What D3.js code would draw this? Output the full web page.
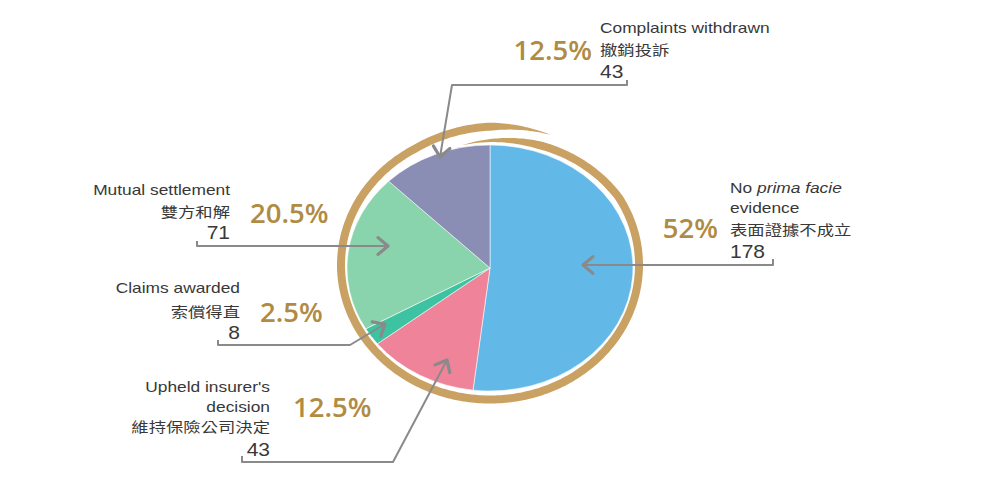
<!DOCTYPE html>
<html>
<head>
<meta charset="utf-8">
<script src="https://cdn.jsdelivr.net/npm/d3@7"></script>
<style>
  body { margin: 0; background: #fff; }
  svg { display: block; }
  .en { font-family: "Liberation Sans", Arial, sans-serif; font-size: 14px; fill: #383838; }
  .num { font-family: "Liberation Sans", Arial, sans-serif; font-size: 17.5px; fill: #383838; }
  .zh { font-family: "Noto Sans CJK TC", sans-serif; font-size: 14px; fill: #383838; }
  .pct { font-family: "Open Sans", sans-serif; font-weight: 600; font-size: 27.5px; fill: #b08b43; }
</style>
</head>
<body>
<div id="chart"></div>
<script>
// Data
const categories = ["No prima facie evidence", "Upheld insurer's decision", "Claims awarded", "Mutual settlement", "Complaints withdrawn"];
const labelsZh = ["表面證據不成立", "維持保險公司決定", "索償得直", "雙方和解", "撤銷投訴"];
const counts = [178, 43, 8, 71, 43];
const percents = ["52%", "12.5%", "2.5%", "20.5%", "12.5%"];
const colors = ["#62b8e7", "#ef8399", "#3dc2a2", "#89d3ad", "#8a8db4"];

const width = 982, height = 485;
const cx = 490, cy = 268, rx = 143, ry = 123;

const svg = d3.select("#chart")
    .append("svg")
    .attr("width", width)
    .attr("height", height);

// gold brush ring (spiral, overlapping at top)
const ringCy = 265, ringRx = 149, ringRy = 134.5;
function ringScale(a) {
    if (a < 60) return 0.91 + 0.09 * (a + 12) / 72;
    if (a < 330) return 1;
    return 1 + 0.05 * (a - 330) / 53;
}
function ringWidth(a) {
    if (a < 20) return 8 * (a + 12) / 32;
    if (a < 360) return 8;
    return 8 * (383 - a) / 23;
}
const outer = [], inner = [];
for (let a = -12; a <= 383; a += 1) {
    const rad = a * Math.PI / 180, s = ringScale(a), w = ringWidth(a) / 2;
    outer.push([cx + (s * ringRx + w) * Math.sin(rad), ringCy - (s * ringRy + w) * Math.cos(rad)]);
    inner.push([cx + (s * ringRx - w) * Math.sin(rad), ringCy - (s * ringRy - w) * Math.cos(rad)]);
}
svg.append("path")
    .attr("d", d3.line()(outer.concat(inner.reverse())) + "Z")
    .attr("fill", "#c9a162");

// pie (elliptical)
const pie = d3.pie().sort(null).value(d => d)(counts);
const arc = d3.arc().innerRadius(0).outerRadius(rx);

svg.append("g")
    .attr("transform", `translate(${cx},${cy}) scale(1,${ry / rx})`)
    .selectAll("path")
    .data(pie)
    .enter()
    .append("path")
    .attr("d", arc)
    .attr("fill", (d, i) => colors[i])
    .attr("stroke", "#fff")
    .attr("stroke-width", 0.6);

// label layout
const layout = [
    { x: 730, anchor: "start", ys: [193, 213, 235, 258], px: 718, py: 238, pAnchor: "end",
      lead: [[773, 259], [773, 265], [583, 265]] },
    { x: 270, anchor: "end", ys: [392, 412, 432, 456], px: 293, py: 417, pAnchor: "start",
      lead: [[242, 456], [242, 462], [393, 462], [447, 360]] },
    { x: 240, anchor: "end", ys: [293, 317, 339], px: 260, py: 322, pAnchor: "start",
      lead: [[218, 340], [218, 345], [350, 345], [385, 324]] },
    { x: 230, anchor: "end", ys: [195, 217, 239], px: 250, py: 223, pAnchor: "start",
      lead: [[197, 241], [197, 246], [388, 246]] },
    { x: 600, anchor: "start", ys: [33, 55, 78], px: 592, py: 60, pAnchor: "end",
      lead: [[627, 80], [627, 85], [452, 85], [440, 157]] }
];

// english label lines
const enLines = [
    [[{ t: "No " }, { t: "prima facie", it: true }], [{ t: "evidence" }]],
    [[{ t: "Upheld insurer's" }], [{ t: "decision" }]],
    [[{ t: "Claims awarded" }]],
    [[{ t: "Mutual settlement" }]],
    [[{ t: "Complaints withdrawn" }]]
];

const sx = 1.24;
const labels = svg.append("g");

function addText(cls, x, y, anchor, scale) {
    return labels.append("text")
        .attr("class", cls)
        .attr("transform", `translate(${x},${y}) scale(${scale},1)`)
        .attr("text-anchor", anchor);
}

layout.forEach((L, i) => {
    // leader line
    labels.append("path")
        .attr("d", d3.line()(L.lead))
        .attr("fill", "none")
        .attr("stroke", "#8a8a8a")
        .attr("stroke-width", 2)
        .attr("stroke-linejoin", "round");
    // arrowhead
    const tip = L.lead[L.lead.length - 1], prev = L.lead[L.lead.length - 2];
    const ang = Math.atan2(tip[1] - prev[1], tip[0] - prev[0]);
    const arm = 13, spread = 0.7;
    const p1 = [tip[0] - arm * Math.cos(ang - spread), tip[1] - arm * Math.sin(ang - spread)];
    const p2 = [tip[0] - arm * Math.cos(ang + spread), tip[1] - arm * Math.sin(ang + spread)];
    labels.append("path")
        .attr("d", d3.line()([p1, tip, p2]))
        .attr("fill", "none")
        .attr("stroke", "#8a8a8a")
        .attr("stroke-width", 3.2)
        .attr("stroke-linecap", "round")
        .attr("stroke-linejoin", "round");

    // text lines
    const lines = enLines[i];
    lines.forEach((parts, k) => {
        const t = addText("en", L.x, L.ys[k], L.anchor, sx);
        parts.forEach(p => t.append("tspan").attr("font-style", p.it ? "italic" : null).text(p.t));
    });
    addText("zh", L.x, L.ys[lines.length], L.anchor, sx).text(labelsZh[i]);
    addText("num", L.x, L.ys[lines.length + 1], L.anchor, 1.2).text(counts[i]);
    addText("pct", L.px, L.py, L.pAnchor, 1).text(percents[i]);
});
</script>
</body>
</html>
